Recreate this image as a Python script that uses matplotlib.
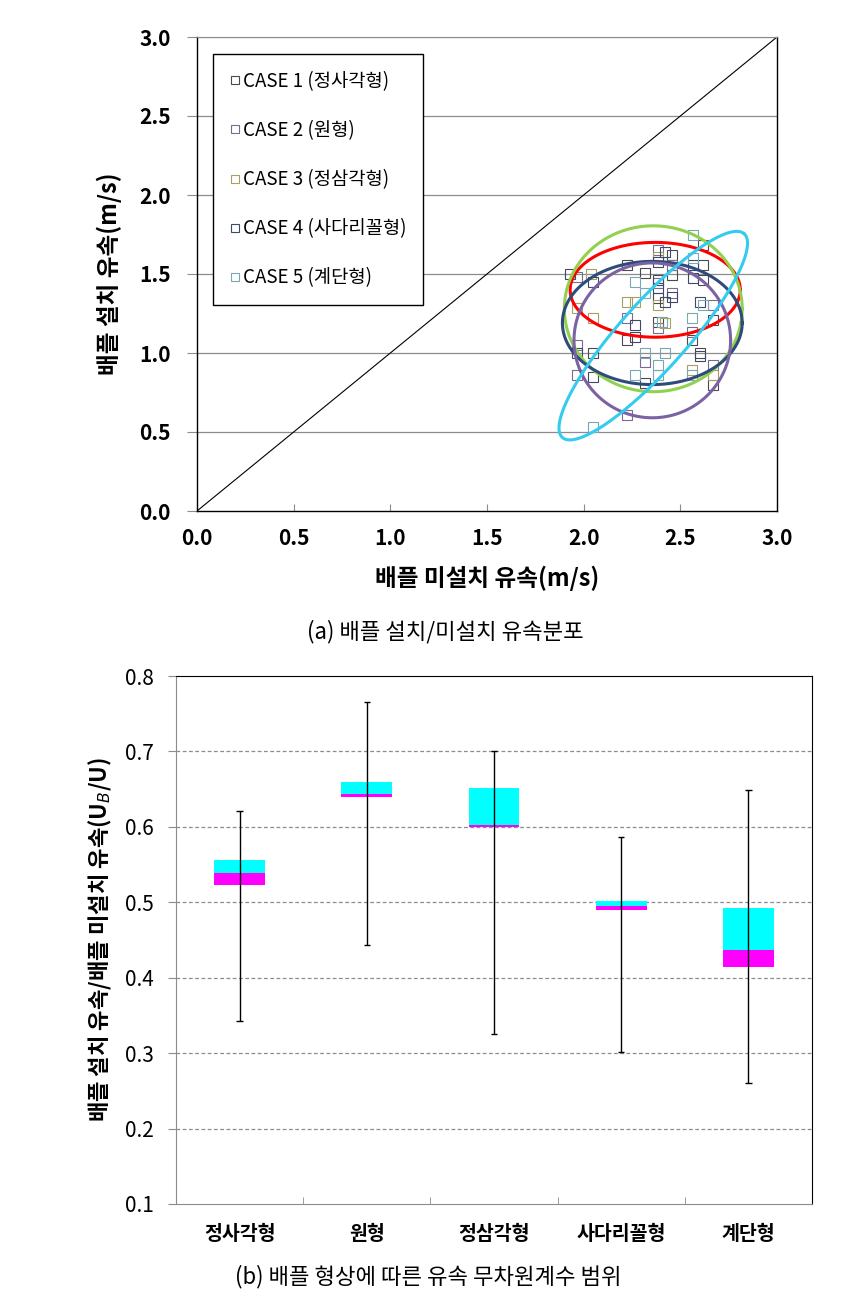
import numpy as np
import matplotlib
matplotlib.use("Agg")
import matplotlib.pyplot as plt
from matplotlib.lines import Line2D

plt.rcParams['font.family'] = ['Noto Sans CJK KR', 'DejaVu Sans']
plt.rcParams['axes.unicode_minus'] = False

# ---------------- data: top scatter ----------------
case_labels = ["CASE 1 (정사각형)", "CASE 2 (원형)", "CASE 3 (정삼각형)",
               "CASE 4 (사다리꼴형)", "CASE 5 (계단형)"]
case_colors = ["#4a4a4a", "#7a6a8c", "#a8a060", "#3e4868", "#78a8b0"]

pt_x = [2.568, 2.619, 2.386, 2.421, 2.386, 2.456, 2.223, 2.386, 2.456,
        2.568, 2.619, 2.568, 1.964, 2.050, 2.318, 2.266, 2.386, 2.386,
        2.456, 2.568, 2.619, 2.318, 2.266, 2.223, 2.386, 2.456, 2.456,
        2.386, 2.421, 2.386, 2.602, 2.619, 2.671, 1.964, 2.050, 2.223,
        2.266, 2.386, 2.404, 2.421, 2.386, 2.559, 2.671, 2.559, 2.559,
        2.223, 2.266, 1.964, 1.964, 2.050, 2.318, 2.318, 2.421, 2.386,
        2.602, 2.602, 1.964, 2.050, 2.266, 2.386, 2.318, 2.559, 2.559,
        2.671, 2.671, 2.671, 2.223, 2.050, 1.930, 2.040]
pt_y = [1.747, 1.684, 1.652, 1.641, 1.610, 1.620, 1.557, 1.578, 1.557,
        1.599, 1.557, 1.557, 1.483, 1.451, 1.504, 1.451, 1.462, 1.440,
        1.493, 1.472, 1.462, 1.378, 1.325, 1.325, 1.409, 1.378, 1.357,
        1.346, 1.325, 1.304, 1.325, 1.304, 1.304, 1.283, 1.219, 1.219,
        1.177, 1.198, 1.198, 1.188, 1.156, 1.219, 1.209, 1.135, 1.082,
        1.082, 1.103, 1.051, 0.998, 0.998, 0.998, 0.945, 0.998, 0.924,
        0.998, 0.980, 0.861, 0.850, 0.861, 0.861, 0.808, 0.892, 0.861,
        0.924, 0.861, 0.797, 0.608, 0.534, 1.500, 1.500]
pt_case = [4, 0, 1, 3, 2, 0, 0, 3, 1, 4, 0, 3, 1, 3, 0, 4, 3, 1,
           0, 3, 0, 4, 2, 2, 3, 1, 3, 0, 3, 2, 3, 4, 1, 2, 2, 1,
           3, 0, 4, 2, 1, 4, 3, 1, 0, 0, 3, 1, 3, 0, 4, 1, 4, 4,
           0, 3, 1, 3, 4, 4, 0, 2, 4, 1, 2, 0, 1, 4, 3, 2]

# ellipses (axis-aligned): centre, full width, full height
ell_cx = [2.37, 2.36, 2.355, 2.355]
ell_cy = [1.40, 1.28, 1.19, 1.08]
ell_w = [0.88, 0.92, 0.93, 0.81]
ell_h = [0.60, 1.05, 0.78, 0.98]
ell_col = ["#ff0000", "#92d050", "#2f4b7c", "#7b62a3"]
# tilted ellipse: centre, major half-vector, minor half-vector (data units)
tilt_c = (2.36, 1.11)
tilt_major = (0.47, 0.645)
tilt_minor = (-0.13, 0.14)
tilt_col = "#33ccee"

# ---------------- data: bottom range chart ----------------
shapes = ["정사각형", "원형", "정삼각형", "사다리꼴형", "계단형"]
q_low = [0.523, 0.639, 0.600, 0.490, 0.414]
q_mid = [0.539, 0.644, 0.602, 0.495, 0.437]
q_high = [0.556, 0.660, 0.652, 0.502, 0.493]
w_min = [0.342, 0.444, 0.325, 0.301, 0.261]
w_max = [0.621, 0.766, 0.701, 0.586, 0.649]

W, H = 857, 1301
fig = plt.figure(figsize=(W / 100, H / 100), dpi=100)

# ================= top chart =================
ax1 = fig.add_axes([197 / W, 1 - 511 / H, 580 / W, 474 / H])
ax1.set_xlim(0, 3)
ax1.set_ylim(0, 3)
for yv in [0.5, 1.0, 1.5, 2.0, 2.5, 3.0]:
    ax1.axhline(yv, color="#8c8c8c", lw=0.9, zorder=1)
ax1.plot([0, 3], [0, 3], color="black", lw=0.8, zorder=2)

pt_x = np.array(pt_x); pt_y = np.array(pt_y); pt_case = np.array(pt_case)
for k in range(5):
    m = pt_case == k
    ax1.plot(pt_x[m], pt_y[m], ls="none", marker="s", ms=7.2, mfc="none",
             mec=case_colors[k], mew=0.8, zorder=3)

t = np.linspace(0, 2 * np.pi, 400)
for cx, cy, w, h, c in zip(ell_cx, ell_cy, ell_w, ell_h, ell_col):
    ax1.plot(cx + w / 2 * np.cos(t), cy + h / 2 * np.sin(t), color=c, lw=2.2, zorder=4)
ax1.plot(tilt_c[0] + tilt_major[0] * np.cos(t) + tilt_minor[0] * np.sin(t),
         tilt_c[1] + tilt_major[1] * np.cos(t) + tilt_minor[1] * np.sin(t),
         color=tilt_col, lw=2.2, zorder=4)

ticks1 = np.arange(0, 3.01, 0.5)
ax1.set_xticks(ticks1)
ax1.set_yticks(ticks1)
ax1.set_xticklabels([f"{v:.1f}" for v in ticks1], fontsize=15, fontweight="bold")
ax1.set_yticklabels([f"{v:.1f}" for v in ticks1], fontsize=15, fontweight="bold")
ax1.tick_params(axis="x", direction="in", length=5, width=0.8, color="#8c8c8c", pad=12)
ax1.tick_params(axis="y", direction="out", length=7, width=0.8, color="#8c8c8c", pad=12)
for s in ["left", "bottom", "right"]:
    ax1.spines[s].set_color("black"); ax1.spines[s].set_linewidth(1.0)
ax1.spines["top"].set_color("#8c8c8c")
ax1.set_xlabel("배플 미설치 유속(m/s)", fontsize=17, fontweight="bold", labelpad=12)
ax1.set_ylabel("배플 설치 유속(m/s)", fontsize=17, fontweight="bold", labelpad=12)

handles = [Line2D([], [], ls="none", marker="s", ms=6, mfc="none",
                  mec=case_colors[k], mew=0.8) for k in range(5)]
leg = ax1.legend(handles, case_labels, loc="upper left",
                 bbox_to_anchor=(16 / 580, (511 - 54) / 474), borderaxespad=0,
                 frameon=True, fancybox=False, edgecolor="black", fontsize=13.5,
                 labelspacing=1.5, borderpad=0.9, handlelength=0.5,
                 handletextpad=0.2, framealpha=1)
leg.get_frame().set_linewidth(1.0)
leg.set_zorder(6)

fig.text(0.52, 1 - 632 / H, "(a) 배플 설치/미설치 유속분포", ha="center", va="center", fontsize=16)

# ================= bottom chart =================
ax2 = fig.add_axes([176 / W, 1 - 1204 / H, 636 / W, 528 / H])
ax2.set_xlim(0.5, 5.5)
ax2.set_ylim(0.1, 0.8)
xpos = np.arange(1, 6)
for yv in [0.2, 0.3, 0.4, 0.5, 0.6, 0.7]:
    ax2.axhline(yv, color="#8c8c8c", lw=0.9, ls=(0, (3, 2)), zorder=1)

q_low = np.array(q_low); q_mid = np.array(q_mid); q_high = np.array(q_high)
ax2.bar(xpos, q_mid - q_low, bottom=q_low, width=0.4, color="#ff00ff", zorder=2)
ax2.bar(xpos, q_high - q_mid, bottom=q_mid, width=0.4, color="#00ffff", zorder=2)
ax2.vlines(xpos, w_min, w_max, color="black", lw=1.0, zorder=3)
ax2.hlines(w_min, xpos - 0.025, xpos + 0.025, color="black", lw=1.0, zorder=3)
ax2.hlines(w_max, xpos - 0.025, xpos + 0.025, color="black", lw=1.0, zorder=3)

ticks2 = np.arange(0.1, 0.81, 0.1)
ax2.set_yticks(ticks2)
ax2.set_yticklabels([f"{v:.1f}" for v in ticks2], fontsize=15)
ax2.set_xticks(xpos)
ax2.set_xticklabels(shapes, fontsize=14, fontweight="bold")
ax2.tick_params(axis="x", length=0, pad=15)
ax2.set_xticks(np.arange(1.5, 5.5, 1), minor=True)
ax2.tick_params(axis="x", which="minor", direction="in", length=5, color="#8c8c8c")
ax2.tick_params(axis="y", direction="out", length=6, color="#8c8c8c", pad=10)
ax2.spines["left"].set_color("#8c8c8c")
ax2.spines["bottom"].set_color("#8c8c8c")
ax2.spines["top"].set_color("black")
ax2.spines["right"].set_color("black")
ax2.set_ylabel("배플 설치 유속/배플 미설치 유속(U$_B$/U)", fontsize=16, fontweight="bold", labelpad=8)

fig.text(0.5, 1 - 1277 / H, "(b) 배플 형상에 따른 유속 무차원계수 범위", ha="center", va="center", fontsize=16)

fig.savefig("out.png", dpi=100)
